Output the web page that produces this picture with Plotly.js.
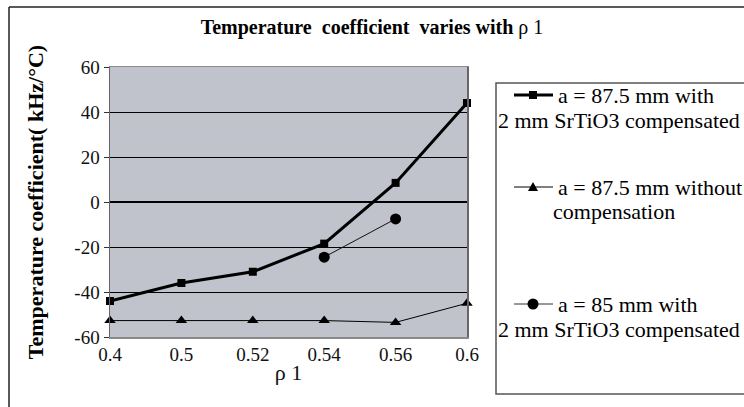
<!DOCTYPE html>
<html>
<head>
<meta charset="utf-8">
<script src="https://cdn.plot.ly/plotly-3.0.1.min.js"></script>
<style>html,body{margin:0;padding:0;background:#fff;}#chart{width:744px;height:407px;}</style>
</head>
<body>
<div id="chart"></div>
<script>
// ---- data ----
var categories = ['0.4', '0.5', '0.52', '0.54', '0.56', '0.6'];
var seriesA = [-44, -36, -31, -18.5, 8.5, 44];             // a = 87.5 mm with 2 mm SrTiO3 compensated
var seriesB = [-52.7, -52.7, -52.7, -52.7, -53.5, -45];    // a = 87.5 mm without compensation
var seriesCx = ['0.54', '0.56'];
var seriesC = [-24.5, -7.5];                               // a = 85 mm with 2 mm SrTiO3 compensated
var legendLine1 = ['a = 87.5 mm with', 'a = 87.5 mm without', 'a = 85 mm with'];
var legendLine2 = ['2 mm SrTiO3 compensated', 'compensation', '2 mm SrTiO3 compensated'];
var yTicks = [-60, -40, -20, 0, 20, 40, 60];

// ---- layout geometry (pixels) ----
var W = 744, H = 407, L = 110, R = 467, T = 67, B = 337;
function px(x) { return (x - L) / (R - L); }
function py(y) { return (B - y) / (B - T); }

var FONT = 'Liberation Serif';

var traces = [
  { x: categories, y: seriesA, type: 'scatter', mode: 'lines+markers', name: legendLine1[0] + ' ' + legendLine2[0],
    line: { color: '#000', width: 3 }, marker: { symbol: 'square', size: 8, color: '#000' }, cliponaxis: false },
  { x: categories, y: seriesB, type: 'scatter', mode: 'lines+markers', name: legendLine1[1] + ' ' + legendLine2[1],
    line: { color: '#000', width: 1 }, marker: { symbol: 'triangle-up', size: 10, color: '#000' }, cliponaxis: false },
  { x: seriesCx, y: seriesC, type: 'scatter', mode: 'lines+markers', name: legendLine1[2] + ' ' + legendLine2[2],
    line: { color: '#111', width: 1 }, marker: { symbol: 'circle', size: 11, color: '#000' }, cliponaxis: false }
];

var shapes = [];
var annotations = [];
// outer chart border (left and top visible)
shapes.push({ type: 'line', xref: 'paper', yref: 'paper', x0: px(9), x1: px(9), y0: py(7), y1: py(420), line: { color: '#222', width: 1.5 } });
shapes.push({ type: 'line', xref: 'paper', yref: 'paper', x0: px(9), x1: px(760), y0: py(7), y1: py(7), line: { color: '#222', width: 1.5 } });
// legend box
shapes.push({ type: 'rect', xref: 'paper', yref: 'paper', x0: px(496), x1: px(770), y0: py(83), y1: py(394), line: { color: '#555', width: 1.5 }, fillcolor: 'rgba(0,0,0,0)' });

var legY1 = [95, 187, 304];
var legY2 = [120, 212, 329];
var legX2 = [497, 552, 497];
var legWidths = [3, 1, 1];
var legColors = ['#000', '#000', '#333'];
for (var i = 0; i < 3; i++) {
  shapes.push({ type: 'line', xref: 'paper', yref: 'paper', x0: px(514), x1: px(553), y0: py(legY1[i]), y1: py(legY1[i]), line: { color: legColors[i], width: legWidths[i] } });
  annotations.push({ xref: 'paper', yref: 'paper', x: px(557), y: py(legY1[i]), xanchor: 'left', yanchor: 'middle', showarrow: false, text: legendLine1[i], font: { family: FONT, size: 22, color: '#000' }, borderpad: 0 });
  annotations.push({ xref: 'paper', yref: 'paper', x: px(legX2[i]), y: py(legY2[i]), xanchor: 'left', yanchor: 'middle', showarrow: false, text: legendLine2[i], font: { family: FONT, size: 22, color: '#000' }, borderpad: 0 });
}
// legend marker glyphs
shapes.push({ type: 'rect', xref: 'paper', yref: 'paper', xsizemode: 'pixel', ysizemode: 'pixel', xanchor: px(533), yanchor: py(legY1[0]), x0: -4, x1: 4, y0: -4, y1: 4, fillcolor: '#000', line: { width: 0 } });
shapes.push({ type: 'path', xref: 'paper', yref: 'paper', xsizemode: 'pixel', ysizemode: 'pixel', xanchor: px(533), yanchor: py(legY1[1]), path: 'M-5,-4L5,-4L0,5Z', fillcolor: '#000', line: { width: 0 } });
shapes.push({ type: 'circle', xref: 'paper', yref: 'paper', xsizemode: 'pixel', ysizemode: 'pixel', xanchor: px(533), yanchor: py(legY1[2]), x0: -5.5, x1: 5.5, y0: -5.5, y1: 5.5, fillcolor: '#000', line: { width: 0 } });

var layout = {
  width: W, height: H,
  margin: { l: L, r: W - R, t: T, b: H - B, pad: 0 },
  paper_bgcolor: '#fff',
  plot_bgcolor: '#c0c3cc',
  showlegend: false,
  font: { family: FONT, color: '#111' },
  title: {
    text: '<b>Temperature\u00a0\u00a0coefficient\u00a0\u00a0varies with</b> \u03c1 1',
    x: 0.5, xref: 'container', xanchor: 'center',
    y: 1 - 27 / H, yref: 'container', yanchor: 'middle',
    font: { family: FONT, size: 20, color: '#000' }
  },
  xaxis: {
    type: 'category', categoryorder: 'array', categoryarray: categories,
    range: [0, categories.length - 1],
    showgrid: false, zeroline: false,
    showline: true, linecolor: '#8a8a8a', linewidth: 1.5, mirror: true,
    ticks: '', tickfont: { family: FONT, size: 19, color: '#111' },
    title: { text: '\u03c1 1', font: { family: FONT, size: 22, color: '#111' }, standoff: 0 },
    automargin: false
  },
  xaxis2: {
    overlaying: 'x', anchor: 'free', position: 0.5, side: 'top',
    type: 'linear', range: [0, categories.length - 1], tickmode: 'linear', tick0: 0, dtick: 1,
    ticks: 'outside', ticklen: 8, tickwidth: 1.5, tickcolor: '#222',
    showticklabels: false, showgrid: false, zeroline: false, showline: false
  },
  yaxis: {
    range: [-60, 60], tickvals: yTicks, ticktext: yTicks.map(String),
    showgrid: true, gridcolor: '#000', gridwidth: 1,
    zeroline: true, zerolinecolor: '#000', zerolinewidth: 1.5,
    showline: true, linecolor: '#666', linewidth: 1.5, mirror: true,
    ticks: 'outside', ticklen: 5, tickcolor: '#333', tickwidth: 1,
    tickfont: { family: FONT, size: 19, color: '#111' },
    title: { text: '<b>Temperature coefficient( kHz/\u00b0C)</b>', font: { family: FONT, size: 22, color: '#000' }, standoff: 24 },
    automargin: false
  },
  shapes: shapes,
  annotations: annotations
};

Plotly.newPlot('chart', traces, layout, { displayModeBar: false, staticPlot: true });
</script>
</body>
</html>
